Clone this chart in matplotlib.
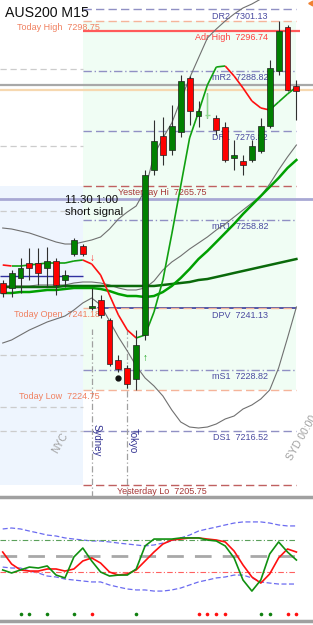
import matplotlib
matplotlib.use('Agg')
import matplotlib.pyplot as plt
from matplotlib.patches import Rectangle
from matplotlib.collections import LineCollection

plt.rcParams['font.family'] = ['Liberation Sans', 'DejaVu Sans']

SYMBOL = 'AUS200 M15'

# M15 bars, oldest first
opens = [7246.23, 7245.23, 7247.23, 7250.24, 7250.24, 7249.24, 7250.64, 7246.83, 7252.05, 7253.65,
         7241.18, 7242.82, 7238.81, 7230.78, 7229.18, 7226.97, 7235.80, 7268.90, 7275.72, 7272.91,
         7276.52, 7287.35, 7279.73, 7279.93, 7279.33, 7277.52, 7271.30, 7270.70, 7270.90, 7272.71,
         7277.72, 7288.76, 7297.58, 7285.75]
highs = [7246.83, 7248.84, 7251.25, 7253.25, 7253.25, 7253.45, 7251.25, 7248.84, 7255.26, 7254.05,
         7245.23, 7243.82, 7239.21, 7231.79, 7229.78, 7236.80, 7268.90, 7278.93, 7279.53, 7281.94,
         7287.95, 7287.75, 7282.74, 7284.34, 7279.93, 7278.53, 7274.92, 7271.91, 7274.92, 7279.33,
         7290.96, 7298.75, 7297.98, 7286.95]
lows = [7243.42, 7243.42, 7244.22, 7246.83, 7245.83, 7245.43, 7243.82, 7245.43, 7251.65, 7251.65,
        7240.90, 7239.21, 7229.58, 7228.38, 7225.20, 7224.75, 7234.80, 7267.89, 7269.90, 7271.91,
        7275.52, 7277.92, 7277.52, 7279.33, 7275.92, 7270.50, 7268.90, 7267.89, 7270.50, 7272.31,
        7277.32, 7287.95, 7284.75, 7278.93]
closes = [7244.22, 7248.24, 7249.24, 7249.24, 7248.24, 7250.64, 7245.83, 7247.83, 7254.86, 7252.05,
          7241.60, 7239.81, 7229.98, 7228.98, 7225.97, 7233.79, 7267.89, 7274.72, 7271.91, 7277.72,
          7286.75, 7280.73, 7280.73, 7279.93, 7276.92, 7270.90, 7271.91, 7269.90, 7273.71, 7277.72,
          7289.36, 7296.78, 7284.95, 7284.75]

# indicators on price
hull_ma = [7249.84, 7249.64, 7249.64, 7249.84, 7250.04, 7250.24, 7250.24, 7250.24, 7250.64, 7250.84,
           7250.04, 7247.83, 7243.82, 7239.81, 7236.80, 7235.20, 7235.80, 7240.41, 7246.83, 7256.06,
           7265.69, 7275.32, 7280.53, 7285.95, 7289.56, 7289.76, 7287.75, 7285.35, 7282.74, 7281.34,
           7280.93, 7282.54, 7284.14, 7285.55]
bb_upper = [7257.26, 7257.06, 7256.66, 7256.26, 7255.66, 7255.06, 7254.45, 7254.05, 7254.05, 7254.45,
            7254.86, 7255.46, 7257.06, 7259.07, 7260.47, 7261.68, 7264.89, 7271.91, 7275.32, 7278.33,
            7282.94, 7287.35, 7291.37, 7295.38, 7297.18, 7298.79, 7300.19, 7301.40, 7302.20, 7303.20,
            7304.00, 7304.60, 7305.01, 7305.41]
bb_mid = [7245.63, 7245.63, 7245.63, 7245.63, 7245.83, 7245.83, 7245.83, 7245.83, 7246.23, 7246.43,
          7246.43, 7246.23, 7245.83, 7245.23, 7244.83, 7244.83, 7245.23, 7246.63, 7248.84, 7250.44,
          7251.65, 7253.05, 7254.25, 7255.46, 7256.86, 7258.07, 7259.47, 7260.87, 7262.28, 7263.68,
          7266.09, 7268.90, 7271.51, 7273.91]
bb_lower = [7234.19, 7234.80, 7235.80, 7236.80, 7237.60, 7238.41, 7239.01, 7239.61, 7240.81, 7242.22,
            7243.22, 7241.82, 7238.61, 7235.40, 7232.59, 7229.58, 7227.17, 7225.57, 7223.56, 7220.75,
            7218.35, 7217.34, 7217.14, 7217.34, 7217.95, 7218.95, 7219.55, 7220.95, 7221.76, 7222.96,
            7224.77, 7229.18, 7235.20, 7241.42]
ma_fast = [7244.22, 7244.22, 7244.42, 7244.42, 7244.62, 7244.83, 7244.83, 7245.03, 7245.23, 7245.23,
           7245.23, 7245.03, 7244.62, 7244.02, 7243.62, 7243.62, 7243.42, 7243.62, 7244.42, 7245.63,
           7247.23, 7249.04, 7251.04, 7252.65, 7254.45, 7256.26, 7258.07, 7260.07, 7261.88, 7263.68,
           7265.49, 7267.29, 7269.30, 7270.90]
ma_slow = [7245.43, 7245.43, 7245.43, 7245.43, 7245.43, 7245.43, 7245.43, 7245.63, 7245.63, 7245.63,
           7245.63, 7245.63, 7245.63, 7245.63, 7245.63, 7245.63, 7245.63, 7245.63, 7245.83, 7246.03,
           7246.23, 7246.43, 7246.83, 7247.03, 7247.43, 7247.83, 7248.24, 7248.64, 7249.04, 7249.44,
           7249.84, 7250.24, 7250.64, 7251.04]

# levels
pivot_names = ['DR2', 'mR2', 'DR1', 'mR1', 'DPV', 'mS1', 'DS1']
pivot_values = [7301.13, 7288.82, 7276.82, 7258.82, 7241.13, 7228.82, 7216.52]
today_names = ['Today High', 'Today Open', 'Today Low']
today_values = [7298.75, 7241.18, 7224.75]
yday_names = ['Yesterday Hi', 'Yesterday Lo']
yday_values = [7265.75, 7205.75]
adr_high = 7296.74
bid, ask = 7285.95, 7284.95
weekly_line = 7263.07
yday_pivot = 7247.63
yday_levels = [7289.16, 7273.71, 7260.67, 7231.79, 7221.36, 7216.54]

# oscillator panel
osc_main = [41.3, 39.4, 41.3, 43.1, 42.5, 43.8, 38.1, 36.3, 49.4, 55.0, 46.9, 40.0, 37.5, 38.1, 38.1,
            41.9, 56.3, 60.6, 60.6, 60.6, 61.3, 61.3, 61.3, 60.0, 59.4, 56.3, 48.8, 35.0, 28.1, 35.0,
            51.3, 58.8, 52.5, 47.5]
osc_signal = [52.5, 45.0, 41.3, 40.6, 40.6, 41.9, 41.9, 40.6, 41.9, 46.9, 48.8, 45.6, 40.0, 38.1, 38.8,
              41.3, 46.9, 52.5, 57.5, 60.0, 60.6, 61.3, 61.3, 60.6, 60.0, 58.8, 53.1, 44.4, 36.9, 33.1,
              38.8, 48.8, 54.4, 52.5]
osc_up = [66.9, 67.5, 66.9, 65.6, 64.4, 63.1, 62.5, 61.3, 60.6, 60.0, 59.4, 59.4, 58.8, 58.1, 57.5,
          56.9, 56.3, 56.9, 58.1, 59.4, 61.3, 63.1, 65.6, 66.9, 68.1, 69.4, 70.6, 71.3, 71.3, 71.3,
          70.6, 69.4, 68.8, 68.8]
osc_dn = [43.1, 42.5, 42.5, 40.6, 39.4, 37.5, 36.9, 35.6, 35.0, 34.4, 33.8, 33.8, 31.9, 30.6, 29.4,
          28.8, 28.8, 28.1, 28.1, 28.8, 30.0, 31.9, 33.8, 35.0, 36.3, 36.9, 38.1, 38.1, 36.3, 33.8,
          33.1, 32.5, 32.5, 32.5]
dots = [0, 0, 1, 1, 0, 1, 0, 0, 1, 0, -1, 0, 0, 0, 0, 1, 0, 0, 0, 0,
        0, 0, -1, -1, -1, -1, 0, 0, 0, 1, 1, 0, -1, -1]
osc_levels = [60, 50, 40]

n = len(closes)
bars = list(range(n))
today_start, last = 9, n - 1
syd_bar, tok_bar = 10, 14

W, H = 313, 625
fig = plt.figure(figsize=(W / 100, H / 100), dpi=100)
ax = fig.add_axes([0, 128 / H, 1, 497 / H])
osc = fig.add_axes([0, 4 / H, 1, 121 / H])


def px(x):
    # pixel column -> bar index
    return (x - 2.7) / 8.9


for a in (ax, osc):
    a.set_xlim(px(0), px(W))
    a.set_xticks([])
    a.set_yticks([])
    for s in a.spines.values():
        s.set_visible(False)
    a.spines['bottom'].set_visible(True)
    a.spines['bottom'].set_color('#a0a0a0')
    a.spines['bottom'].set_linewidth(2.5)

ax.set_ylim(7203.3, 7303.0)
osc.set_ylim(9.4, 85)

# session boxes
ax.add_patch(Rectangle((px(0), yday_values[1]), today_start - px(0), yday_values[0] - yday_values[1],
                       facecolor='#eef5fe', edgecolor='none', zorder=0))
ax.add_patch(Rectangle((today_start, today_values[2]), last - today_start, today_values[0] - today_values[2],
                       facecolor='#f0fdf4', edgecolor='none', zorder=0))

# full width lines
ax.axhline(bid, color='#a8a8a8', lw=1.6, zorder=1)
ax.axhline(ask, color='#f6d8b0', lw=1.6, zorder=1)
ax.axhline(weekly_line, color='#a8a8d4', lw=2, zorder=1)
ax.hlines(yday_levels, px(0), today_start, colors='#cccccc', linestyles=(0, (5, 3)), lw=0.9, zorder=1)
ax.hlines(yday_pivot, px(0), today_start, colors='#3030a0', lw=1, zorder=1)

pad = 0.45
lab = dict(fontsize=6.5, va='top', zorder=2)
styles = {'DR2': (0, (6, 3)), 'mR2': (0, (6, 2, 1, 2)), 'DR1': (0, (6, 3)), 'mR1': (0, (6, 2, 1, 2)),
          'DPV': '-', 'mS1': (0, (6, 2, 1, 2)), 'DS1': (0, (6, 3))}
for name, v in zip(pivot_names, pivot_values):
    if name == 'DPV':
        ax.hlines(v, 10.6, last, colors='#2a2a90', lw=1.1, zorder=1)
    else:
        ax.hlines(v, today_start, last, colors='#9090c4', linestyles=styles[name], lw=1, zorder=1)
    ax.text(px(268), v - pad, f'{name}  {v:.2f}', color='#4a4aa0', ha='right', **lab)

for name, v in zip(today_names, today_values):
    ax.hlines(v, today_start, last, colors='#f5b49a', linestyles=(0, (6, 3)), lw=1, zorder=1)
    ax.text(px(100), v - pad, f'{name}  {v:.2f}', color='#f08060', ha='right', **lab)

for name, v in zip(yday_names, yday_values):
    ax.hlines(v, today_start, last, colors='#c06060', linestyles=(0, (6, 3)), lw=1, zorder=1)
    ax.text(px(207), v - pad, f'{name}  {v:.2f}', color='#a83838', ha='right', **lab)

ax.hlines(adr_high, today_start, last + 0.4, colors='#ff5a5a', lw=1.6, zorder=1)
ax.text(px(268), adr_high - pad, f'Adr High  {adr_high:.2f}', color='#ff4040', ha='right', **lab)

# session separators
for b, name in ((syd_bar, 'Sydney'), (tok_bar, 'Tokyo')):
    ax.vlines(b, 7203.3, 7237.0, colors='#a0a0a0', linestyles=(0, (5, 2, 1, 2)), lw=0.9, zorder=1)
    ax.text(b + 0.6, 7214.7, name, rotation=270, color='#303090', fontsize=7,
            ha='center', va='center', zorder=2)
ax.text(px(60), 7214.1, 'NYC', rotation=60, color='#a0a0a0', fontsize=7.5,
        ha='center', va='center', zorder=2)
# next session tag runs off the right edge, as on the terminal
ax.text(px(294), 7210.3, 'SYD 00:00', rotation=60, rotation_mode='anchor', color='#a0a0a0',
        fontsize=7.5, ha='left', va='bottom', zorder=2, clip_on=False)

# indicator lines
ax.plot(bars, bb_upper, color='#707070', lw=0.8, zorder=3)
ax.plot(bars, bb_mid, color='#707070', lw=0.8, zorder=3)
ax.plot(bars, bb_lower, color='#707070', lw=0.8, zorder=3)
ax.plot(bars, ma_slow, color='#0a6a0a', lw=1.8, zorder=3)
ax.plot(bars, ma_fast, color='#00a000', lw=1.8, zorder=3)
segs = [[(i, hull_ma[i]), (i + 1, hull_ma[i + 1])] for i in range(n - 1)]
cols = ['#10a010' if hull_ma[i + 1] >= hull_ma[i] else '#ff1010' for i in range(n - 1)]
ax.add_collection(LineCollection(segs, colors=cols, linewidths=1.2, zorder=3))

# candles
for i in bars:
    o, h, l, c = opens[i], highs[i], lows[i], closes[i]
    ax.vlines(i, l, h, colors='#303030', lw=0.8, zorder=4)
    if c == o:
        ax.vlines(i, l, h, colors='#90d890', lw=1, zorder=4)
        ax.hlines(c, i - 0.3, i + 0.3, colors='#90d890', lw=1, zorder=5)
        continue
    fc = '#008000' if c > o else '#ff0000'
    ax.add_patch(Rectangle((i - 0.33, min(o, c)), 0.66, abs(c - o), facecolor=fc,
                           edgecolor='#202020', lw=0.5, zorder=5))

# signal marks
ax.text(syd_bar, 7251.3, '\u2193', color='#ff2020', fontsize=7, fontweight='bold',
        ha='center', va='center', zorder=6)
ax.text(16, 7231.2, '\u2191', color='#10a010', fontsize=7, fontweight='bold',
        ha='center', va='center', zorder=6)
ax.plot(13, 7227.2, 'o', color='#101010', ms=3.5, zorder=6)
ax.plot(px(311), 7302.4, marker=(3, 0, -30), color='#f08030', ms=4, zorder=6, clip_on=False)
ax.text(px(65), 7261.6, '11.30 1:00\nshort signal', fontsize=8.2, color='#101010',
        ha='left', va='center', linespacing=1.25, zorder=6)

fig.text(5 / W, 1 - 13 / H, SYMBOL, fontsize=10.2, color='#101010', va='center')

# oscillator
osc.plot(bars, osc_up, color='#6b6bf0', lw=0.9, ls=(0, (4, 2)))
osc.plot(bars, osc_dn, color='#6b6bf0', lw=0.9, ls=(0, (4, 2)))
osc.hlines(osc_levels[0], px(0), last, colors='#5aa05a', linestyles=(0, (5, 2, 1, 2)), lw=0.8)
osc.hlines(osc_levels[1], px(0), last, colors='#a8a8a8', linestyles=(0, (6, 4)), lw=2)
osc.hlines(osc_levels[2], px(0), last, colors='#ff6060', linestyles=(0, (5, 2, 1, 2)), lw=0.8)
osc.plot(bars, osc_signal, color='#ff1010', lw=1.2)
osc.plot(bars, osc_main, color='#109010', lw=1.2)
for i, d in enumerate(dots):
    if d:
        osc.plot(i, 13.75, 'o', ms=2.6, mec='none', color='#108010' if d > 0 else '#ff1010')

fig.savefig('out.png', dpi=100)
